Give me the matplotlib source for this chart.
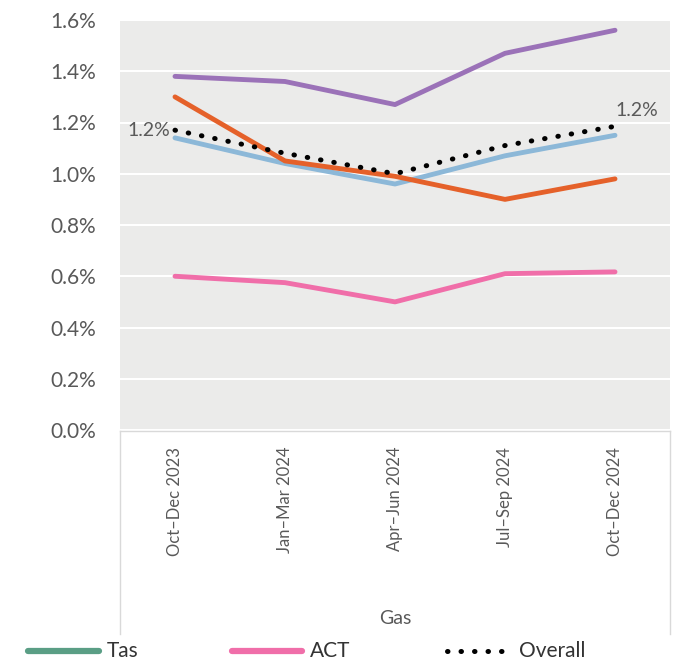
import matplotlib.pyplot as plt
from matplotlib.lines import Line2D

plt.rcParams['font.family'] = ['Lato', 'DejaVu Sans']

# quarters on the category axis
quarters = ['Oct\u2013Dec 2023', 'Jan\u2013Mar 2024', 'Apr\u2013Jun 2024', 'Jul\u2013Sep 2024', 'Oct\u2013Dec 2024']

# values in percent
purple = [1.38, 1.36, 1.27, 1.47, 1.56]
orange = [1.30, 1.05, 0.99, 0.90, 0.98]
light_blue = [1.14, 1.04, 0.96, 1.07, 1.15]
act = [0.60, 0.575, 0.50, 0.61, 0.617]
overall = [1.17, 1.08, 1.00, 1.11, 1.185]

legend_names = ['Tas', 'ACT', 'Overall']

grey_text = '#595959'
dots = (0, (0.1, 2.6))

fig = plt.figure(figsize=(6.77, 6.62), dpi=100)
# axes box in pixels: x 120..670, y 20..430
ax = fig.add_axes([120/677, 1 - 430/662, 550/677, 410/662])
ax.set_facecolor('#ebebea')

x = list(range(len(quarters)))
ax.plot(x, purple, color='#9b72b8', lw=3.5, solid_capstyle='round', zorder=3)
ax.plot(x, light_blue, color='#8cb8d8', lw=3.5, solid_capstyle='round', zorder=3)
ax.plot(x, orange, color='#e5612a', lw=3.5, solid_capstyle='round', zorder=4)
ax.plot(x, act, color='#f06ea9', lw=3.5, solid_capstyle='round', zorder=3)
ax.plot(x, overall, color='black', lw=3.6, linestyle=dots, dash_capstyle='round', zorder=5)

# labels on first and last overall points
ax.text(x[0] - 0.04, overall[0], '1.2%', ha='right', va='center', fontsize=14, color=grey_text, zorder=6)
ax.text(x[-1] + 0.0, overall[-1] + 0.03, '1.2%', ha='left', va='bottom', fontsize=14, color=grey_text, zorder=6)

ax.set_xlim(-0.5, 4.5)
ax.set_ylim(0, 1.6)
ax.set_yticks([0, 0.2, 0.4, 0.6, 0.8, 1.0, 1.2, 1.4, 1.6])
ax.set_yticklabels(['%.1f%%' % v for v in ax.get_yticks()], fontsize=15, color=grey_text)
ax.yaxis.grid(True, color='white', lw=1.5)
ax.set_axisbelow(True)
ax.tick_params(axis='y', length=0, pad=17)
ax.set_xticks(x)
ax.set_xticklabels(quarters, rotation=90, fontsize=12, color=grey_text, va='top')
ax.tick_params(axis='x', length=0, pad=12)
for s in ax.spines.values():
    s.set_visible(False)

# frame of the category label area
for lx in (120, 670):
    fig.add_artist(Line2D([lx/677, lx/677], [1 - 431/662, 1 - 634/662], color='#d9d9d9', lw=1))
fig.add_artist(Line2D([120/677, 670/677], [1 - 431/662, 1 - 431/662], color='#d9d9d9', lw=1))

fig.text(395/677, 1 - 618/662, 'Gas', ha='center', va='center', fontsize=14, color=grey_text)

# legend drawn by hand: handle start, handle end, text start (pixels)
ly = 1 - 651/662
leg_x = [(28, 99, 107), (232, 302, 310), (447, 505, 519)]
leg_style = [dict(color='#5a9e85', lw=4.5, solid_capstyle='round'),
             dict(color='#f06ea9', lw=4.5, solid_capstyle='round'),
             dict(color='black', lw=3.6, linestyle=dots, dash_capstyle='round')]
for (x0, x1, tx), st, name in zip(leg_x, leg_style, legend_names):
    fig.add_artist(Line2D([x0/677, x1/677], [ly, ly], **st))
    fig.text(tx/677, ly, name, ha='left', va='center', fontsize=15, color='#333333')

fig.savefig('out.png', dpi=100)
